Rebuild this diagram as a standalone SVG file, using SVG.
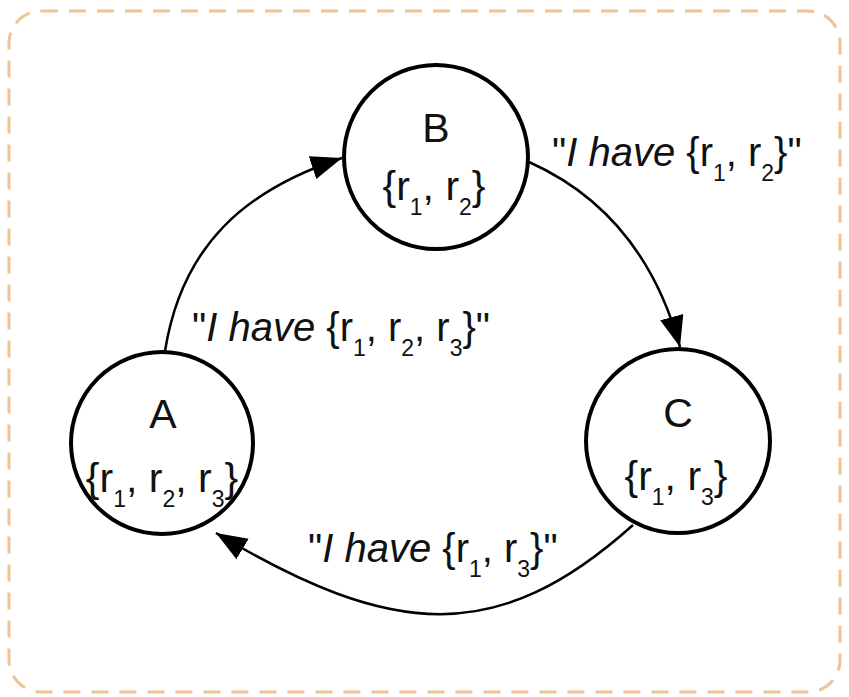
<svg xmlns="http://www.w3.org/2000/svg" width="849" height="697" viewBox="0 0 849 697">
<style>
.frame{fill:none;stroke:#eec396;stroke-width:3;stroke-dasharray:17 11}
.node{fill:#fff;stroke:#000;stroke-width:4}
.edge{fill:none;stroke:#000;stroke-width:2.5}
text{font-family:"Liberation Sans",Arial,Helvetica,sans-serif;fill:#111}
.nm{font-size:41px;text-anchor:middle}
.set{font-size:41px;text-anchor:middle}
.lbl{font-size:40px}
.sub{font-size:23px}
</style>
<defs>
<marker id="arr" markerUnits="userSpaceOnUse" markerWidth="32" markerHeight="26" refX="31" refY="12" orient="auto" viewBox="0 0 32 26">
<path d="M0,0 L31,12 L0,24 Z" fill="#000"/>
</marker>
</defs>
<rect class="frame" x="9" y="11" width="831" height="681" rx="32" ry="32"/>
<g id="connectors">
<path id="e-AB" class="edge" d="M165,351 C182,245 245,190 342,158" marker-end="url(#arr)"/>
<path id="e-BC" class="edge" d="M529,162 Q643,213 680,347" marker-end="url(#arr)"/>
<path id="e-CA" class="edge" d="M633,525 C498,646 393,639 216,533" marker-end="url(#arr)"/>
<text class="lbl" x="192" y="341">"<tspan font-style="italic">I have</tspan> {r<tspan class="sub" dy="15">1</tspan><tspan dy="-15">, r</tspan><tspan class="sub" dy="15">2</tspan><tspan dy="-15">, r</tspan><tspan class="sub" dy="15">3</tspan><tspan dy="-15">}"</tspan></text>
<text class="lbl" x="552" y="166">"<tspan font-style="italic">I have</tspan> {r<tspan class="sub" dy="15">1</tspan><tspan dy="-15">, r</tspan><tspan class="sub" dy="15">2</tspan><tspan dy="-15">}"</tspan></text>
<text class="lbl" x="308" y="562">"<tspan font-style="italic">I have</tspan> {r<tspan class="sub" dy="15">1</tspan><tspan dy="-15">, r</tspan><tspan class="sub" dy="15">3</tspan><tspan dy="-15">}"</tspan></text>
</g>
<g id="node-B">
<circle class="node" cx="436" cy="157" r="92"/>
<text class="nm" x="436" y="142">B</text>
<text class="set" x="434" y="200">{r<tspan class="sub" dy="15">1</tspan><tspan dy="-15">, r</tspan><tspan class="sub" dy="15">2</tspan><tspan dy="-15">}</tspan></text>
</g>
<g id="node-A">
<circle class="node" cx="162" cy="443" r="91"/>
<text class="nm" x="163" y="428">A</text>
<text class="set" x="162" y="492">{r<tspan class="sub" dy="15">1</tspan><tspan dy="-15">, r</tspan><tspan class="sub" dy="15">2</tspan><tspan dy="-15">, r</tspan><tspan class="sub" dy="15">3</tspan><tspan dy="-15">}</tspan></text>
</g>
<g id="node-C">
<circle class="node" cx="678" cy="441" r="92"/>
<text class="nm" x="678" y="427">C</text>
<text class="set" x="676" y="490">{r<tspan class="sub" dy="15">1</tspan><tspan dy="-15">, r</tspan><tspan class="sub" dy="15">3</tspan><tspan dy="-15">}</tspan></text>
</g>
</svg>
